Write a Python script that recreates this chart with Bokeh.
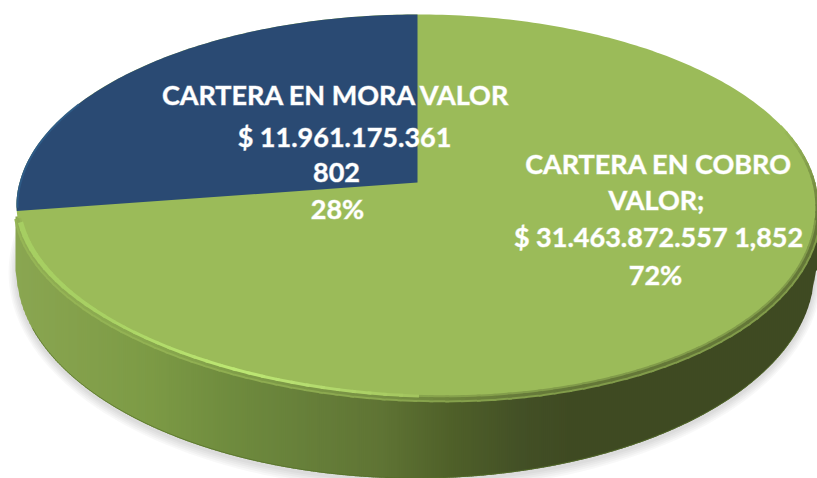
import math
from bokeh.plotting import figure
from bokeh.models import Range1d
from bokeh.core.properties import value
from bokeh.embed import file_html
from bokeh.resources import INLINE

# data
categories = ["CARTERA EN MORA VALOR", "CARTERA EN COBRO VALOR"]
valores = [11961175361, 31463872557]
colores = ["#2A4A73", "#9BBB59"]
labels_mora = ["CARTERA EN MORA VALOR", "$ 11.961.175.361", "802", "28%"]
labels_cobro = ["CARTERA EN COBRO", "VALOR;", "$ 31.463.872.557 1,852", "72%"]

# geometry of the tilted pie, in picture pixels
CX, CY = 417, 182
TOP, BOTTOM = 168, 216
K = (BOTTOM - TOP) / (BOTTOM + TOP)
RY = TOP * (1 + K)
RX = 401 * math.sqrt(1 - K * K)
TILT = 14
BCX, BCY, BRX, BRY = 415, 270, 399, 208

def face(t):
    a = math.radians(t)
    s, c = math.sin(a), math.cos(a)
    d = 1 + K * c
    x = CX + RX * s / d
    y = CY - RY * c / d
    if c < 0:
        y += TILT * s * (-c)
    return x, y

def bottom_y(x):
    u = max(-1, min(1, (x - BCX) / BRX))
    return BCY + BRY * math.sqrt(1 - u * u)

def hex2(c):
    return [int(c[i:i + 2], 16) for i in (1, 3, 5)]

def mix(a, b, f):
    ca, cb = hex2(a), hex2(b)
    return "#%02x%02x%02x" % tuple(round(p + (q - p) * f) for p, q in zip(ca, cb))

def ramp(x, stops):
    if x <= stops[0][0]:
        return stops[0][1]
    for (x0, c0), (x1, c1) in zip(stops, stops[1:]):
        if x <= x1:
            return mix(c0, c1, (x - x0) / (x1 - x0))
    return stops[-1][1]

SIDE = [(14, "#8AA651"), (150, "#7C9A45"), (230, "#6F8B3E"), (300, "#67803A"),
        (380, "#5F7434"), (450, "#4F6029"), (520, "#435026"), (570, "#3F4A22"), (817, "#3F4A22")]
RIM = [(14, "#A6CE62"), (100, "#A8D163"), (230, "#BDE873"), (300, "#B6DE70"),
       (380, "#A8CC62"), (450, "#9BBB59")]

p = figure(width=817, height=478, x_range=Range1d(0, 817), y_range=Range1d(478, 0),
           output_backend="svg", toolbar_location=None, min_border=0,
           background_fill_color="white", border_fill_color="white", outline_line_color=None)
p.axis.visible = False
p.grid.visible = False

# soft shadow
for grow in (10, 8, 6, 4, 2):
    xs, ys = [], []
    for i in range(0, 361, 2):
        a = math.radians(i)
        xs.append(BCX + (BRX + grow * 0.8) * math.cos(a))
        ys.append(BCY + 2 + (BRY + grow) * math.sin(a))
    p.patch(xs, ys, fill_color="black", fill_alpha=0.028, line_color=None)

# side wall, in thin columns
col_xs, col_ys, col_c = [], [], []
x = 15
while x < 816:
    x2 = min(x + 2, 816)
    col_xs.append([x, x2 + 0.6, x2 + 0.6, x])
    col_ys.append([216, 216, bottom_y(x2 + 0.6), bottom_y(x)])
    col_c.append(ramp(x, SIDE))
    x = x2
p.patches(col_xs, col_ys, fill_color=col_c, line_color=None)

# darker bottom edge
eb_x = [BCX + BRX * i / 100 for i in range(-96, 97)]
eb_y = [bottom_y(v) - 0.5 for v in eb_x]
p.line(eb_x, eb_y, line_color="#55702A", line_width=1, line_alpha=0.7)

# top face, slices from the values
total = sum(valores)
sweep_mora = 360 * valores[0] / total
start = 360 - sweep_mora
full = [face(t) for t in range(0, 361, 1)]
p.patch([q[0] for q in full], [q[1] for q in full], fill_color=colores[1], line_color=None)
arc = [face(start + sweep_mora * i / 120) for i in range(121)]
p.patch([CX] + [q[0] for q in arc], [CY] + [q[1] for q in arc], fill_color=colores[0], line_color=None)

# blurred dark lip along the face edge, two passes
for width, strength, first in ((7, 0.28, 100), (3, 0.6, 72)):
    sx, sy, sc = [], [], []
    for t in range(first, 257, 2):
        x0, y0 = face(t)
        x1, y1 = face(t + 2.5)
        f = strength if t >= 100 else strength * (t - first) / (100 - first)
        # kept just inside the outline where the wall does not yet back it
        inset = 1.5 if t < 100 else 0
        sx.append([x0 - inset, x1 - inset]); sy.append([y0, y1])
        sc.append(mix(colores[1], ramp((x0 + x1) / 2, SIDE), f))
    p.multi_line(sx, sy, line_color=sc, line_width=width)

# bright rim at lower left, wider towards the left end
rx_, ry_, rc_, rw_ = [], [], [], []
for t in range(180, 256, 2):
    x0, y0 = face(t)
    x1, y1 = face(t + 2.5)
    if x0 > 450:
        continue
    w = 3 + 2.5 * max(0, (120 - x0) / 106)
    rx_.append([x0 + 1.5, x1 + 1.5]); ry_.append([y0 - 2.5, y1 - 2.5])
    rc_.append(ramp((x0 + x1) / 2, RIM)); rw_.append(w)
p.multi_line(rx_, ry_, line_color=rc_, line_width=rw_)

# lighter blue lip
bl = [face(start + i) for i in range(1, 36)]
p.line([q[0] + 1 for q in bl], [q[1] for q in bl], line_color="#2F5F8C", line_width=2, line_alpha=0.8)

# labels
FONT = value("Lato")
HALO = "rgba(255,255,255,0.45)"
p.text(x=[336, 344, 336, 337], y=[94, 136, 172, 208], text=labels_mora, text_color="white", text_font=FONT,
       text_font_style="bold", text_font_size="27px", text_align="center", text_baseline="middle",
       text_outline_color=HALO)
p.text(x=[658, 656, 658, 655], y=[163, 199, 236, 274], text=labels_cobro, text_color="white", text_font=FONT,
       text_font_style="bold", text_font_size="27px", text_align="center", text_baseline="middle",
       text_outline_color=HALO)

open("out.html", "w").write(file_html(p, INLINE))
